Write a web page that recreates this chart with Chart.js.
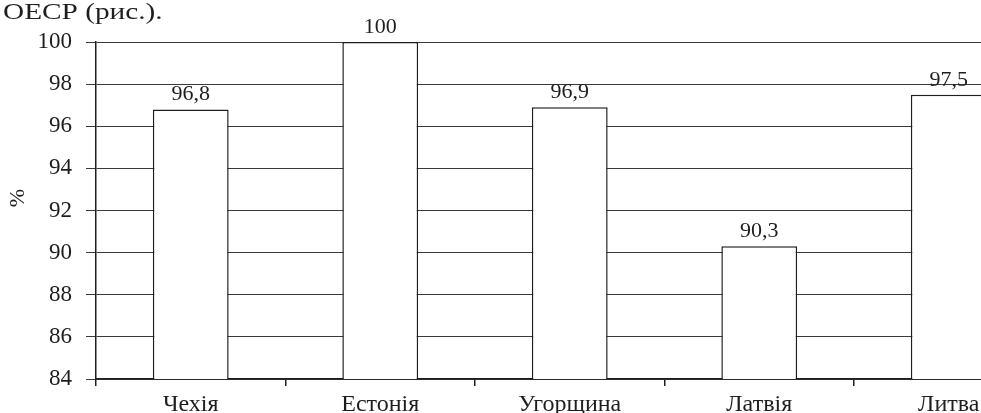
<!DOCTYPE html>
<html>
<head>
<meta charset="utf-8">
<script src="https://cdn.jsdelivr.net/npm/chart.js@4/dist/chart.umd.min.js"></script>
<style>
  html, body { margin: 0; padding: 0; background: #fff; overflow: hidden; }
  canvas { display: block; }
</style>
</head>
<body>
<canvas id="c" width="1047" height="413"></canvas>
<script>
// Частка населення (%), країни
const countries = ['Чехія', 'Естонія', 'Угорщина', 'Латвія', 'Литва'];
const shares = [96.8, 100, 96.9, 90.3, 97.5];
const yTicks = [84, 86, 88, 90, 92, 94, 96, 98, 100];
const headingText = 'ОЕСР (рис.).';
const axisTitle = '%';

const SERIF = '"Liberation Serif"';
const INK = '#1e1e1e';

const fmt = v => String(v).replace('.', ',');

// Value labels above each bar, plus the heading and the rotated axis title
const annotate = {
  id: 'annotate',
  afterDatasetsDraw(chart) {
    const ctx = chart.ctx;
    ctx.save();
    ctx.fillStyle = INK;
    ctx.font = '22px ' + SERIF;
    ctx.textAlign = 'center';
    ctx.textBaseline = 'alphabetic';
    const meta = chart.getDatasetMeta(0);
    meta.data.forEach((bar, i) => {
      ctx.fillText(fmt(chart.data.datasets[0].data[i]), bar.x, bar.y - 9);
    });
    ctx.restore();

    // heading line of the running text, set in a wide face
    ctx.save();
    ctx.fillStyle = INK;
    ctx.font = '24px ' + SERIF;
    ctx.textAlign = 'left';
    ctx.textBaseline = 'alphabetic';
    ctx.translate(3, 19);
    ctx.scale(1.22, 1);
    ctx.fillText(headingText, 0, 0);
    ctx.restore();

    ctx.save();
    ctx.fillStyle = INK;
    ctx.font = '22px ' + SERIF;
    ctx.translate(18, 198);
    ctx.rotate(-Math.PI / 2);
    ctx.textAlign = 'center';
    ctx.textBaseline = 'middle';
    ctx.fillText(axisTitle, 0, 0);
    ctx.restore();
  }
};

new Chart(document.getElementById('c'), {
  type: 'bar',
  data: {
    labels: countries,
    datasets: [{
      data: shares,
      backgroundColor: '#ffffff',
      borderColor: INK,
      borderWidth: 1.5,
      barPercentage: 0.4,
      categoryPercentage: 1.0
    }]
  },
  options: {
    responsive: false,
    animation: false,
    layout: { padding: { top: 42, right: 3.5, left: 0, bottom: 0 } },
    plugins: {
      legend: { display: false },
      tooltip: { enabled: false },
      title: { display: false }
    },
    scales: {
      x: {
        type: 'category',
        offset: true,
        grid: {
          offset: true,
          drawOnChartArea: false,
          drawTicks: true,
          tickLength: 7,
          color: INK,
          lineWidth: 1.5
        },
        border: { display: true, color: INK, width: 1.5 },
        ticks: {
          font: { family: SERIF, size: 24 },
          color: INK,
          padding: 4,
          maxRotation: 0,
          autoSkip: false
        },
        afterFit(scale) { scale.height = 34; }
      },
      y: {
        min: 84,
        max: 100,
        afterBuildTicks(scale) { scale.ticks = yTicks.map(v => ({ value: v })); },
        grid: {
          drawOnChartArea: true,
          drawTicks: true,
          tickLength: 10,
          color: '#3a3a3a',
          lineWidth: 1
        },
        border: { display: true, color: INK, width: 1.5 },
        ticks: {
          font: { family: SERIF, size: 23 },
          color: INK,
          padding: 14,
          callback: v => fmt(v)
        },
        afterFit(scale) { scale.width = 96; }
      }
    }
  },
  plugins: [annotate]
});
</script>
</body>
</html>
